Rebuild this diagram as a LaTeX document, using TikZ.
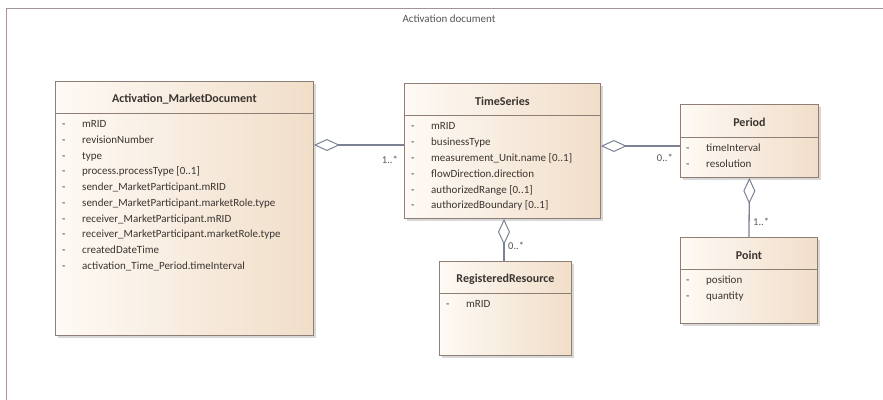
\documentclass[tikz,border=0pt]{standalone}
\usepackage{fontspec}
\setmainfont{Carlito}
\usetikzlibrary{arrows.meta,shadows,calc}
\definecolor{boxborder}{HTML}{8E7E76}
\definecolor{boxleft}{HTML}{FEFAF5}
\definecolor{boxright}{HTML}{F1DEC9}
\definecolor{txtcol}{HTML}{3A3430}
\definecolor{linecol}{HTML}{7A8294}
\definecolor{framecol}{HTML}{A39595}
\definecolor{labcol}{HTML}{555555}
\tikzset{
 classbox/.style={draw=boxborder, line width=0.9pt, left color=boxleft, right color=boxright,
   drop shadow={shadow xshift=2.5pt, shadow yshift=-2.5pt, fill=black!30, opacity=0.5},
   anchor=north west, inner sep=0},
 ctitle/.style={font=\fontsize{12}{14}\selectfont\bfseries, text=txtcol, inner sep=0},
 attr/.style={anchor=west, inner sep=0, font=\fontsize{11}{13}\selectfont, text=txtcol,
   text height=1.5ex, text depth=0.3ex},
 sepline/.style={draw=boxborder, line width=0.9pt},
 assoc/.style={draw=linecol, line width=1.3pt, {Diamond[length=26pt,width=12pt,fill=white,line width=1pt]}-},
 mult/.style={font=\fontsize{10.5}{12}\selectfont, text=labcol, inner sep=0},
}
\begin{document}
\begin{tikzpicture}[x=1pt,y=-1pt]
\useasboundingbox (0,0) rectangle (883,399);
% frame
\draw[framecol, line width=1pt] (6,420) -- (6,8) -- (900,8);
\node[font=\fontsize{11}{13}\selectfont, text=labcol, inner sep=0] (frametitle) at (449,19) {Activation document};

% Activation_MarketDocument
\node[classbox, minimum width=258pt, minimum height=254pt] (act) at (55,81) {};
\node[ctitle] (actT) at (act.north |- 0,99) {Activation\_MarketDocument};
\draw[sepline] (act.west |- 0,113) -- (act.east |- 0,113);
\foreach \t [count=\i from 0] in {mRID, revisionNumber, type, process.processType [0..1],
  sender\_MarketParticipant.mRID, sender\_MarketParticipant.marketRole.type,
  receiver\_MarketParticipant.mRID, receiver\_MarketParticipant.marketRole.type,
  createdDateTime, activation\_Time\_Period.timeInterval}{
  \node[attr] (actd\i) at (62,{125+15.7*\i}) {-};
  \node[attr] (acta\i) at (82,{125+15.7*\i}) {\t};
}

% TimeSeries
\node[classbox, minimum width=196pt, minimum height=135pt] (ts) at (404,83) {};
\node[ctitle] (tsT) at (ts.north |- 0,101) {TimeSeries};
\draw[sepline] (ts.west |- 0,115) -- (ts.east |- 0,115);
\foreach \t [count=\i from 0] in {mRID, businessType, measurement\_Unit.name [0..1],
  flowDirection.direction, authorizedRange [0..1], authorizedBoundary [0..1]}{
  \node[attr] (tsd\i) at (411,{127+15.8*\i}) {-};
  \node[attr] (tsa\i) at (431,{127+15.8*\i}) {\t};
}

% Period
\node[classbox, minimum width=138pt, minimum height=73pt] (per) at (680,104) {};
\node[ctitle] (perT) at (per.north |- 0,122) {Period};
\draw[sepline] (per.west |- 0,137) -- (per.east |- 0,137);
\foreach \t [count=\i from 0] in {timeInterval, resolution}{
  \node[attr] (perd\i) at (686,{149+15.5*\i}) {-};
  \node[attr] (pera\i) at (706,{149+15.5*\i}) {\t};
}

% RegisteredResource
\node[classbox, minimum width=132pt, minimum height=94pt] (rr) at (439,261) {};
\node[ctitle] (rrT) at (rr.north |- 0,279) {RegisteredResource};
\draw[sepline] (rr.west |- 0,293) -- (rr.east |- 0,293);
\node[attr] (rrd0) at (446,305) {-};
\node[attr] (rra0) at (466,305) {mRID};

% Point
\node[classbox, minimum width=137pt, minimum height=86pt] (pt) at (680,237) {};
\node[ctitle] (ptT) at (pt.north |- 0,255) {Point};
\draw[sepline] (pt.west |- 0,269) -- (pt.east |- 0,269);
\foreach \t [count=\i from 0] in {position, quantity}{
  \node[attr] (ptd\i) at (686,{281+15.5*\i}) {-};
  \node[attr] (pta\i) at (706,{281+15.5*\i}) {\t};
}

% associations
\draw[assoc] (act.east |- 0,145) -- (ts.west |- 0,145);
\node[mult, anchor=east] (m1) at (398,160) {1..*};
\draw[assoc] (ts.east |- 0,146) -- (per.west |- 0,146);
\node[mult, anchor=east] (m2) at (673,158) {0..*};
\draw[assoc] (ts.south -| 504,0) -- (rr.north -| 504,0);
\node[mult, anchor=west] (m3) at (508,246) {0..*};
\draw[assoc] (per.south) -- (pt.north);
\node[mult, anchor=west] (m4) at (753,222) {1..*};
\end{tikzpicture}
\end{document}
